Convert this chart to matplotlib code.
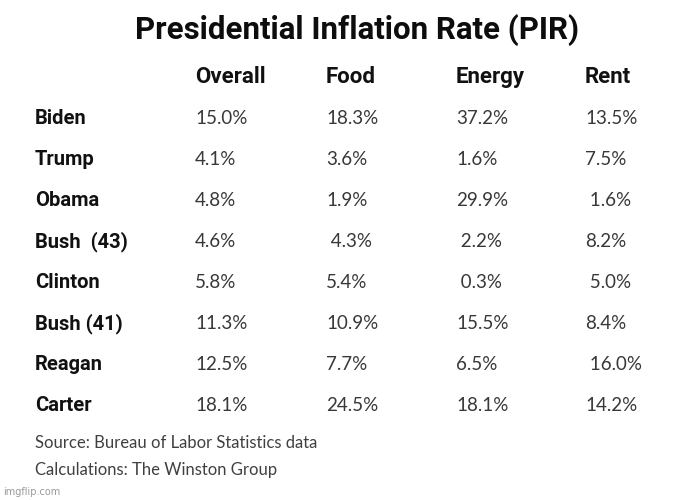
import matplotlib.pyplot as plt

title = "Presidential Inflation Rate (PIR)"
columns = ["Overall", "Food", "Energy", "Rent"]
presidents = ["Biden", "Trump", "Obama", "Bush  (43)", "Clinton", "Bush (41)", "Reagan", "Carter"]
overall = ["15.0%", "4.1%", "4.8%", "4.6%", "5.8%", "11.3%", "12.5%", "18.1%"]
food = ["18.3%", "3.6%", "1.9%", " 4.3%", "5.4%", "10.9%", "7.7%", "24.5%"]
energy = ["37.2%", "1.6%", "29.9%", " 2.2%", " 0.3%", "15.5%", "6.5%", "18.1%"]
rent = ["13.5%", "7.5%", " 1.6%", "8.2%", " 5.0%", "8.4%", " 16.0%", "14.2%"]
notes = ["Source: Bureau of Labor Statistics data", "Calculations: The Winston Group"]

fig = plt.figure(figsize=(6.74, 5.0), dpi=100)
ax = fig.add_axes([0, 0, 1, 1])
ax.set_xlim(0, 674)
ax.set_ylim(500, 0)
ax.axis("off")

# title and column headers
ax.text(357, 30, title, ha="center", va="center", fontsize=22.5,
        fontweight="bold", family="Roboto", color="#0d0d0d")

col_x = [195, 326, 456, 585]
for x, name in zip(col_x, columns):
    ax.text(x, 77, name, ha="left", va="center", fontsize=16,
            fontweight="bold", family="Roboto", color="#111111")

# table body
row_y0, row_dy = 119, 40.9
for i, pres in enumerate(presidents):
    y = row_y0 + i * row_dy
    ax.text(35, y, pres, ha="left", va="center", fontsize=14.5,
            fontweight="bold", family="Roboto", color="#111111")
    for x, col in zip(col_x, [overall, food, energy, rent]):
        ax.text(x, y, col[i], ha="left", va="center", fontsize=13.5,
                family="Lato", color="#383838")

for j, note in enumerate(notes):
    ax.text(35, 443 + j * 27, note, ha="left", va="center", fontsize=12,
            family="Lato", color="#404040")

ax.text(3, 492, "imgflip.com", ha="left", va="center", fontsize=7,
        family="DejaVu Sans", color="#9a9a9a")

fig.savefig("out.png", dpi=100, facecolor="white")
